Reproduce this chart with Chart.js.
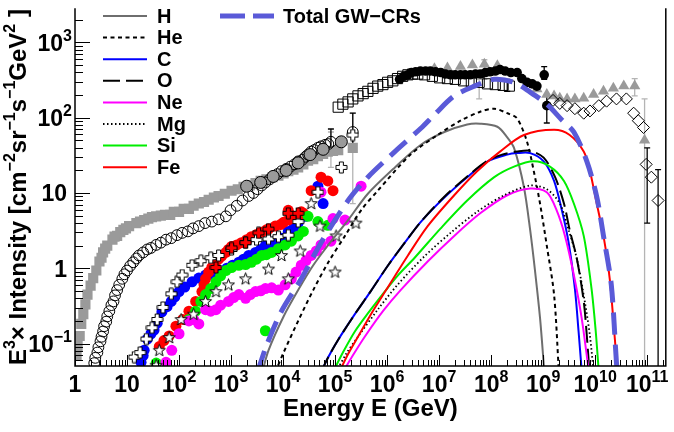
<!DOCTYPE html>
<html>
<head>
<meta charset="utf-8">
<script src="https://cdn.jsdelivr.net/npm/chart.js@4.4.0/dist/chart.umd.min.js"></script>
<style>html,body{margin:0;padding:0;background:#fff}</style>
</head>
<body>
<canvas id="c" width="674" height="432"></canvas>
<script>
// All values are log10(E / GeV) and log10(E^3 x intensity).

// model curves
const hE   = [3.60,3.72,4.01,4.29,4.58,4.87,5.25,5.63,6.15,6.65,7.10,7.54,7.79,8.12,8.31,8.44,8.63,8.75,8.84,8.94,9.02];
const hI   = [-1.38,-1.09,-0.64,-0.29,0.04,0.31,0.64,0.99,1.34,1.64,1.81,1.91,1.92,1.88,1.74,1.60,1.08,0.51,-0.01,-0.66,-1.35];
const heE  = [3.85,4.01,4.29,4.58,4.87,5.19,5.50,5.82,6.45,6.97,7.41,7.79,8.06,8.31,8.50,8.69,8.82,8.94,9.07,9.21,9.30];
const heI  = [-1.38,-1.12,-0.70,-0.29,0.08,0.43,0.77,1.03,1.51,1.77,1.96,2.08,2.12,2.06,1.99,1.68,1.29,0.86,0.30,-0.35,-1.35];
const cE   = [4.73,4.87,5.06,5.38,5.69,6.01,6.34,6.64,7.10,7.54,7.93,8.31,8.50,8.75,9.01,9.21,9.36,9.49,9.61,9.68,9.74];
const cI   = [-1.38,-1.18,-0.95,-0.61,-0.30,0.03,0.34,0.61,0.94,1.21,1.42,1.51,1.53,1.53,1.42,1.16,0.77,0.34,-0.27,-0.83,-1.35];
const oE   = [4.73,4.87,5.06,5.38,5.69,6.01,6.34,6.64,7.10,7.54,7.93,8.21,8.50,8.75,9.01,9.23,9.40,9.51,9.65,9.78,9.84,9.89];
const oI   = [-1.38,-1.18,-0.95,-0.61,-0.30,0.03,0.34,0.61,0.95,1.22,1.43,1.51,1.55,1.56,1.47,1.21,0.86,0.51,0.12,-0.44,-0.90,-1.38];
const neE  = [5.15,5.34,5.57,5.92,6.26,6.78,7.29,7.79,8.31,8.75,9.07,9.26,9.42,9.59,9.74,9.88];
const neI  = [-1.38,-1.16,-0.91,-0.57,-0.29,0.09,0.43,0.73,0.97,1.06,1.01,0.77,0.43,-0.09,-0.66,-1.38];
const mgE  = [5.02,5.21,5.44,5.82,6.20,6.72,7.22,7.73,8.25,8.75,9.07,9.32,9.49,9.65,9.80,9.90,9.97];
const mgI  = [-1.38,-1.14,-0.91,-0.55,-0.22,0.16,0.47,0.75,0.97,1.10,1.05,0.86,0.51,0.12,-0.44,-0.90,-1.38];
const siE  = [4.96,5.15,5.38,5.63,5.92,6.20,6.53,7.03,7.54,8.06,8.44,8.82,9.13,9.40,9.59,9.78,9.93,10.01,10.07];
const siI  = [-1.38,-1.12,-0.84,-0.60,-0.34,-0.10,0.14,0.53,0.90,1.21,1.35,1.42,1.35,1.16,0.86,0.43,-0.27,-0.83,-1.38];
const feE  = [5.08,5.25,5.44,5.69,5.98,6.40,6.78,7.29,7.73,8.17,8.63,9.21,9.51,9.78,9.90,10.03,10.16,10.28,10.37,10.43];
const feI  = [-1.38,-1.14,-0.91,-0.61,-0.29,0.17,0.56,0.97,1.29,1.55,1.77,1.84,1.77,1.55,1.29,0.86,0.43,-0.14,-0.87,-1.38];
const totE = [3.51,3.68,3.97,4.35,4.73,5.25,5.63,6.15,6.65,6.91,7.29,7.68,8.06,8.44,8.75,9.07,9.36,9.59,9.84,10.03,10.16,10.31,10.41,10.43];
const totI = [-1.38,-1.03,-0.57,-0.14,0.34,0.90,1.21,1.55,1.86,2.04,2.29,2.42,2.51,2.47,2.34,2.18,1.97,1.81,1.42,0.95,0.43,-0.22,-1.26,-1.38];

// measured spectra
const grySqE = [0.03,0.05,0.09,0.12,0.16,0.20,0.24,0.30,0.35,0.41,0.47,0.54,0.62,0.72,0.81,0.93,1.04,1.18,1.33,1.48,1.65,1.83,2.00,2.19,2.38,2.57,2.76,3.01,3.24,3.47,3.68,3.91,4.10,4.29,4.48,4.67,4.86,5.06,5.34,
                0.51,0.58,0.76,0.87,0.98,1.25,1.41,1.56,1.73,1.90,2.09,2.28,2.48,2.67,2.88,3.13,3.36,3.57,3.80,4.01,4.20,4.39,4.58,4.77,4.96];
const grySqI = [-1.16,-1.03,-0.90,-0.74,-0.61,-0.48,-0.35,-0.23,-0.13,-0.03,0.09,0.21,0.30,0.38,0.43,0.51,0.56,0.60,0.64,0.68,0.70,0.71,0.75,0.79,0.86,0.91,0.96,1.03,1.08,1.13,1.18,1.23,1.29,1.34,1.43,1.49,1.55,1.57,1.60,
                0.14,0.26,0.42,0.48,0.53,0.62,0.66,0.69,0.71,0.75,0.79,0.83,0.88,0.94,0.99,1.05,1.10,1.16,1.21,1.26,1.31,1.38,1.45,1.52,1.56];
const openCirE = [0.37,0.43,0.49,0.54,0.60,0.66,0.74,0.81,0.91,1.00,1.12,1.23,1.39,1.56,1.75,1.96,2.17,2.38,2.63,2.90,3.11,3.34,3.51,3.66,3.81,3.97,4.14,4.29,4.43,4.54,4.67,4.81,4.92,5.34,
                  0.39,0.45,0.51,0.56,0.62,0.70,0.77,0.85,0.95,1.06,1.18,1.31,1.46,1.65,1.85,2.06,2.27,2.50,2.76,2.99,3.22,3.43,3.59,3.74,3.89,4.06,4.22,4.37,4.48,4.60,4.73,4.87];
const openCirI = [-1.26,-1.12,-0.97,-0.84,-0.71,-0.57,-0.44,-0.29,-0.14,-0.03,0.08,0.17,0.25,0.31,0.38,0.44,0.49,0.56,0.62,0.69,0.83,0.96,1.05,1.14,1.22,1.29,1.35,1.42,1.48,1.55,1.60,1.64,1.68,1.81,
                  -1.19,-1.05,-0.91,-0.77,-0.64,-0.49,-0.36,-0.22,-0.08,0.03,0.13,0.21,0.27,0.34,0.40,0.47,0.53,0.60,0.65,0.77,0.90,1.00,1.10,1.18,1.25,1.32,1.38,1.44,1.51,1.57,1.62,1.65];
const gryCirE = [3.30,3.57,3.81,4.06,4.29,4.52,4.77,5.12];
const gryCirI = [1.09,1.14,1.22,1.30,1.40,1.51,1.58,1.68];
const openSqE = [5.06,5.15,5.25,5.34,5.44,5.54,5.63,5.73,5.82,5.92,6.01,6.11,6.20,6.30,6.40,6.49,6.59,6.72,6.87,7.01,7.16,7.31,7.47,7.62,7.77,7.93,8.08,8.23,8.35];
const openSqI = [2.14,2.18,2.21,2.25,2.29,2.32,2.35,2.39,2.42,2.44,2.47,2.49,2.52,2.55,2.57,2.58,2.58,2.57,2.55,2.53,2.52,2.51,2.49,2.48,2.47,2.45,2.44,2.43,2.42];
const blkCirE = [6.24,6.32,6.40,6.47,6.55,6.64,6.74,6.83,6.93,7.03,7.12,7.22,7.31,7.41,7.50,7.60,7.70,7.79,7.89,7.98,8.08,8.17,8.27,8.38,8.50,8.59,8.69,8.79,8.88,9.02,9.07];
const blkCirI = [2.51,2.55,2.57,2.60,2.61,2.62,2.62,2.62,2.61,2.60,2.58,2.57,2.57,2.57,2.57,2.57,2.58,2.58,2.60,2.61,2.62,2.64,2.62,2.60,2.60,2.52,2.47,2.45,2.42,2.57,2.16];
const triE = [6.91,7.16,7.41,7.64,7.87,8.12,8.88,9.07,9.21,9.32,9.46,9.61,9.78,9.97,10.16,10.35,10.55,10.76,10.95];
const triI = [2.65,2.66,2.68,2.70,2.71,2.69,2.38,2.31,2.29,2.26,2.25,2.25,2.26,2.31,2.35,2.39,2.42,2.42,1.70];
const diaE = [9.19,9.32,9.46,9.61,9.78,9.90,10.07,10.22,10.41,10.60,10.74,10.83,10.93,10.98,11.08,11.21];
const diaI = [2.23,2.19,2.16,2.12,2.06,2.09,2.16,2.22,2.25,2.25,2.06,1.96,1.87,1.38,1.21,0.90];

// direct measurements of single elements
const bluE = [1.27,1.33,1.39,1.52,1.67,1.85,2.00,2.25,2.51,2.71,2.92,3.15,3.34,3.47,3.66,3.81,3.97,4.10,4.29,4.43,4.67,4.77,
              1.31,1.46,1.58,1.77,1.92,2.11,2.38,2.61,2.80,3.03,3.24,3.57,3.76,3.91,4.20];
const bluI = [-1.25,-1.09,-0.94,-0.82,-0.58,-0.44,-0.31,-0.18,-0.09,-0.09,0.00,0.08,0.17,0.21,0.30,0.35,0.40,0.49,0.60,0.69,1.09,0.86,
              -1.16,-0.87,-0.73,-0.51,-0.38,-0.25,-0.13,-0.08,-0.05,0.04,0.12,0.25,0.32,0.38,0.53];
const redE = [1.62,1.71,1.81,1.94,2.07,2.19,2.32,2.44,2.51,2.63,2.76,2.90,3.01,3.20,3.39,3.59,3.72,3.85,4.01,4.10,4.29,4.10,4.35,4.54,4.73,4.86,4.96,
              2.48,2.57,2.69,2.82,2.95,3.11,3.30,3.49,3.68,3.95,4.20,4.39];
const redI = [-1.04,-0.96,-0.90,-0.77,-0.68,-0.57,-0.44,-0.31,-0.14,0.01,0.12,0.21,0.29,0.34,0.42,0.48,0.52,0.56,0.61,0.64,0.69,0.77,0.75,1.03,1.21,1.16,1.03,
              -0.22,-0.05,0.05,0.16,0.25,0.31,0.38,0.45,0.51,0.58,0.66,0.73];
const grnE = [1.56,2.19,2.32,2.51,2.71,2.90,3.15,3.39,3.59,3.78,4.04,4.29,4.48,4.67,4.86,3.66,
              2.42,2.61,2.80,3.01,3.28,3.49,3.68,3.91,4.16,4.39];
const grnI = [-1.26,-0.68,-0.57,-0.35,-0.18,-0.03,0.04,0.08,0.17,0.21,0.31,0.43,0.69,0.62,0.57,-0.83,
              -0.44,-0.27,-0.10,0.01,0.05,0.12,0.18,0.26,0.36,0.49];
const magE = [1.75,1.86,2.19,2.38,2.51,2.71,2.95,3.15,3.28,3.47,3.66,3.91,4.16,4.35,4.54,4.73,4.92,5.19,5.50,4.73,4.96,
              2.00,2.28,2.61,2.80,3.05,3.37,3.57,3.78,4.04,4.25,4.44,4.64];
const magI = [-1.25,-1.09,-0.70,-0.74,-0.55,-0.55,-0.44,-0.35,-0.40,-0.31,-0.27,-0.29,-0.14,0.04,0.17,0.31,0.36,0.64,1.09,1.01,0.66,
              -0.87,-0.68,-0.57,-0.49,-0.39,-0.35,-0.30,-0.26,-0.22,-0.05,0.10,0.23];
const crsE = [1.14,1.25,1.37,1.48,1.58,1.69,1.85,1.96,2.06,2.25,2.42,2.61,2.76,3.01,3.28,3.49,3.72,3.91,4.10,4.29,4.67,5.12,5.34];
const crsI = [-1.18,-1.12,-0.94,-0.79,-0.68,-0.52,-0.34,-0.18,-0.09,0.04,0.10,0.14,0.17,0.25,0.34,0.38,0.39,0.42,0.44,0.62,1.01,1.34,1.77];
const redCrsE = [2.71,3.01,3.28,3.53,3.72,4.10,4.29];
const redCrsI = [0.01,0.27,0.34,0.47,0.52,0.73,0.73];
const starE = [1.56,1.62,1.81,2.04,2.28,2.51,2.71,2.95,3.28,3.72,4.10,3.97,4.33,4.54,4.71,5.02,5.00,5.40];
const starI = [-1.29,-1.09,-0.92,-0.68,-0.61,-0.44,-0.31,-0.22,-0.14,-0.01,-0.14,0.17,0.23,0.86,0.56,0.43,-0.05,0.60];

// error bars: position, low, high
const errGryE  = [4.92, 5.34, 7.77, 7.87, 10.76, 10.95];
const errGryLo = [1.34, 0.86, 2.25, 2.51, 2.29, -1.40];
const errGryHi = [1.81, 2.06, 2.51, 2.77, 2.52, 2.25];
const errBlkE  = [4.92, 5.34, 8.31, 9.02, 9.07, 11.00, 11.21];
const errBlkLo = [1.55, 1.62, 2.35, 2.51, 1.93, 0.60, -1.40];
const errBlkHi = [1.85, 2.06, 2.51, 2.68, 2.29, 1.60, 1.31];

const FONT = '"Liberation Sans", Arial, Helvetica, sans-serif';
const TOTAL_COLOR = '#5a5ad8';

const pts = (le, li) => le.map((v, i) => ({ x: Math.pow(10, v), y: Math.pow(10, li[i]) }));

function crossImg(fill) {
  const c = document.createElement('canvas');
  c.width = 13; c.height = 13;
  const g = c.getContext('2d');
  const m = 6.5, a = 2, e = 5.5;
  const p = [[-a,-e],[a,-e],[a,-a],[e,-a],[e,a],[a,a],[a,e],[-a,e],[-a,a],[-e,a],[-e,-a],[-a,-a]];
  g.beginPath();
  p.forEach(([x, y], i) => i ? g.lineTo(m + x, m + y) : g.moveTo(m + x, m + y));
  g.closePath();
  g.fillStyle = fill; g.fill();
  g.strokeStyle = '#000'; g.lineWidth = 1; g.stroke();
  return c;
}

function starImg() {
  const c = document.createElement('canvas');
  c.width = 15; c.height = 15;
  const g = c.getContext('2d');
  g.beginPath();
  for (let i = 0; i < 10; i++) {
    const r = i % 2 ? 2.6 : 6.3;
    const t = -Math.PI / 2 + i * Math.PI / 5;
    const x = 7.5 + r * Math.cos(t), y = 7.8 + r * Math.sin(t);
    i ? g.lineTo(x, y) : g.moveTo(x, y);
  }
  g.closePath();
  g.fillStyle = '#fff'; g.fill();
  g.strokeStyle = '#000'; g.lineWidth = 1; g.stroke();
  return c;
}

function marks(label, le, li, style, radius, fill, border, order) {
  return {
    label, data: pts(le, li), showLine: false, pointStyle: style, pointRadius: radius,
    backgroundColor: fill, borderColor: border, pointBorderWidth: border ? 1 : 0, order
  };
}

function curve(label, le, li, color, width, dash, order) {
  return {
    label, data: pts(le, li), showLine: true, pointRadius: 0, borderColor: color,
    borderWidth: width, borderDash: dash, tension: 0.3, fill: false, order
  };
}

const curves = [
  curve('H', hE, hI, '#6e6e6e', 2, [], 8),
  curve('He', heE, heI, '#000', 2, [4, 3.5], 7),
  curve('C', cE, cI, '#0000ff', 2, [], 6),
  curve('O', oE, oI, '#000', 2, [17, 6], 5),
  curve('Ne', neE, neI, '#ff00ff', 2, [], 4),
  curve('Mg', mgE, mgI, '#000', 1.8, [1.5, 2.5], 3),
  curve('Si', siE, siI, '#00ee00', 2, [], 2),
  curve('Fe', feE, feI, '#ff0000', 2, [], 1),
];
const total = curve('Total GW\u2212CRs', totE, totI, TOTAL_COLOR, 5, [22, 10], 0);

const datasets = [
  marks('sq gray', grySqE, grySqI, 'rect', 7.2, '#9a9a9a', null, 30),
  marks('circ open', openCirE, openCirI, 'circle', 5.4, 'rgba(0,0,0,0)', '#000', 29),
  marks('circ gray', gryCirE, gryCirI, 'circle', 6, '#9a9a9a', '#000', 28),
  marks('sq open', openSqE, openSqI, 'rect', 7.2, 'rgba(0,0,0,0)', '#000', 27),
  marks('tri', triE, triI, 'triangle', 6.5, '#9a9a9a', null, 26),
  marks('circ black', blkCirE, blkCirI, 'circle', 4.8, '#000', null, 25),
  marks('diamond', diaE, diaI, 'rectRot', 6, 'rgba(0,0,0,0)', '#000', 24),
  marks('C data', bluE, bluI, 'circle', 5.5, '#0000ff', null, 23),
  marks('Fe data', redE, redI, 'circle', 5.5, '#ff0000', null, 22),
  marks('Si data', grnE, grnI, 'circle', 5.5, '#00ee00', null, 21),
  marks('Ne data', magE, magI, 'circle', 5.5, '#ff00ff', null, 20),
  marks('cross', crsE, crsI, crossImg('#fff'), 6, '#fff', '#000', 19),
  marks('cross red', redCrsE, redCrsI, crossImg('#ff0000'), 6, '#f00', '#000', 18),
  marks('star', starE, starI, starImg(), 6, '#fff', '#000', 17),
  ...curves,
  total
];

// draws superscripted text; parts are [text, isSup]
function richWidth(ctx, parts, size) {
  let w = 0;
  parts.forEach(([t, sup]) => {
    ctx.font = `bold ${sup ? Math.round(size * 0.68) : size}px ${FONT}`;
    w += ctx.measureText(t).width;
  });
  return w;
}
function drawRich(ctx, parts, x, y, align, size) {
  const w = richWidth(ctx, parts, size);
  let cx = align === 'center' ? x - w / 2 : align === 'right' ? x - w : x;
  ctx.textAlign = 'left';
  ctx.textBaseline = 'alphabetic';
  parts.forEach(([t, sup]) => {
    ctx.font = `bold ${sup ? Math.round(size * 0.68) : size}px ${FONT}`;
    ctx.fillText(t, cx, sup ? y - size * 0.44 : y);
    cx += ctx.measureText(t).width;
  });
}
function decadeLabel(n) {
  if (n === 0) return [['1', false]];
  if (n === 1) return [['10', false]];
  return [['10', false], [n < 0 ? '\u2212' + (-n) : String(n), true]];
}

const rootStyle = {
  id: 'rootStyle',
  beforeDatasetsDraw(chart) {
    const { ctx, chartArea: a, scales: { x, y } } = chart;
    ctx.save();
    ctx.beginPath();
    ctx.rect(a.left, a.top, a.right - a.left, a.bottom - a.top);
    ctx.clip();
    const bars = (E, lo, hi, col) => {
      ctx.strokeStyle = col;
      ctx.lineWidth = 1.3;
      E.forEach((e, i) => {
        const px = x.getPixelForValue(Math.pow(10, e));
        const p1 = y.getPixelForValue(Math.pow(10, lo[i]));
        const p2 = y.getPixelForValue(Math.pow(10, hi[i]));
        ctx.beginPath();
        ctx.moveTo(px, p1); ctx.lineTo(px, p2);
        ctx.moveTo(px - 3, p1); ctx.lineTo(px + 3, p1);
        ctx.moveTo(px - 3, p2); ctx.lineTo(px + 3, p2);
        ctx.stroke();
      });
    };
    bars(errGryE, errGryLo, errGryHi, '#b4b4b4');
    bars(errBlkE, errBlkLo, errBlkHi, '#000');
    ctx.restore();
  },
  afterDraw(chart) {
    const { ctx, chartArea: a, scales: { x, y } } = chart;
    ctx.save();
    ctx.fillStyle = '#000';
    ctx.strokeStyle = '#000';
    // frame
    ctx.lineWidth = 1.5;
    ctx.beginPath();
    ctx.moveTo(a.left, a.top); ctx.lineTo(a.left, a.bottom); ctx.lineTo(a.right, a.bottom); ctx.lineTo(a.right, a.top);
    ctx.stroke();
    // ticks, inside the frame
    ctx.lineWidth = 1;
    ctx.beginPath();
    for (let n = 0; n <= 11; n++) {
      for (let k = 1; k <= 9; k++) {
        const v = k * Math.pow(10, n);
        if (v < x.min || v > x.max) continue;
        const px = Math.round(x.getPixelForValue(v)) + 0.5;
        ctx.moveTo(px, a.bottom); ctx.lineTo(px, a.bottom - (k === 1 ? 11 : 6));
      }
    }
    for (let n = -2; n <= 3; n++) {
      for (let k = 1; k <= 9; k++) {
        const v = k * Math.pow(10, n);
        if (v < y.min || v > y.max) continue;
        const py = Math.round(y.getPixelForValue(v)) + 0.5;
        ctx.moveTo(a.left, py); ctx.lineTo(a.left + (k === 1 ? 15 : 8), py);
      }
    }
    ctx.stroke();
    // tick labels
    for (let n = 0; n <= 11; n++) {
      drawRich(ctx, decadeLabel(n), x.getPixelForValue(Math.pow(10, n)), 392, 'center', 23);
    }
    for (let n = -1; n <= 3; n++) {
      const py = y.getPixelForValue(Math.pow(10, n));
      drawRich(ctx, decadeLabel(n), (n === 0 || n === 1) ? 67 : 72, py + 8.5, 'right', 23);
    }
    // axis titles
    drawRich(ctx, [['Energy E (GeV)', false]], (a.left + a.right) / 2, 416, 'center', 24);
    ctx.save();
    ctx.translate(26, (a.top + a.bottom) / 2);
    ctx.rotate(-Math.PI / 2);
    drawRich(ctx, [['E', false], ['3', true], ['\u00d7 Intensity [cm', false], ['\u22122', true], ['sr', false],
      ['\u22121', true], ['s', false], ['\u22121', true], ['GeV', false], ['2', true], [' ]', false]], 0, 0, 'center', 24);
    ctx.restore();
    // legend
    const legY0 = 16, legDy = 21.6;
    ctx.font = `bold 20px ${FONT}`;
    ctx.textBaseline = 'middle';
    curves.forEach((d, i) => {
      const ly = legY0 + i * legDy;
      ctx.beginPath();
      ctx.strokeStyle = d.borderColor;
      ctx.lineWidth = d.borderWidth;
      ctx.setLineDash(d.borderDash);
      ctx.moveTo(103, ly); ctx.lineTo(147, ly);
      ctx.stroke();
      ctx.fillText(d.label, 157, ly + 1);
    });
    ctx.beginPath();
    ctx.strokeStyle = total.borderColor;
    ctx.lineWidth = 5;
    ctx.setLineDash([25, 8]);
    ctx.moveTo(220, legY0); ctx.lineTo(274, legY0);
    ctx.stroke();
    ctx.setLineDash([]);
    ctx.fillText(total.label, 283, legY0 + 1);
    ctx.restore();
  }
};

new Chart(document.getElementById('c'), {
  type: 'scatter',
  data: { datasets },
  options: {
    responsive: false,
    devicePixelRatio: 1,
    animation: false,
    events: [],
    layout: { padding: { left: 75, right: 5, top: 0, bottom: 66 } },
    plugins: { legend: { display: false }, tooltip: { enabled: false } },
    scales: {
      x: { type: 'logarithmic', min: 1, max: 2.28e11, bounds: 'data', display: false },
      y: { type: 'logarithmic', min: 0.0503, max: 2850, bounds: 'data', display: false }
    }
  },
  plugins: [rootStyle]
});
</script>
</body>
</html>
